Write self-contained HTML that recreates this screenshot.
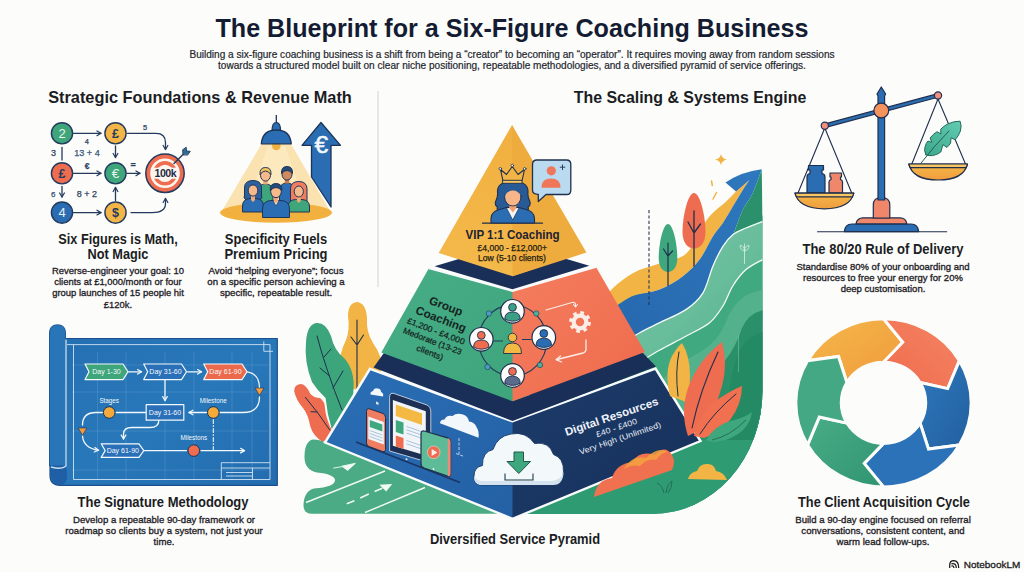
<!DOCTYPE html>
<html lang="en">
<head>
<meta charset="utf-8">
<title>The Blueprint for a Six-Figure Coaching Business</title>
<style>
html,body{margin:0;padding:0;}
body{width:1024px;height:572px;overflow:hidden;background:#fcfcfa;font-family:"Liberation Sans",sans-serif;color:#1c1f27;position:relative;}
#art{position:absolute;left:0;top:0;width:1024px;height:572px;}
.t{position:absolute;white-space:nowrap;text-align:center;transform:translateX(-50%) scaleX(var(--s,1));}
h1.t{margin:0;font-size:25.4px;font-weight:700;color:#141c33;line-height:30px;}
.sub{font-size:10.2px;line-height:11.3px;color:#23262e;-webkit-text-stroke:0.2px #23262e;}
.h2{font-size:16.6px;font-weight:700;line-height:20px;color:#1b1d24;}
.h3{font-size:14.2px;font-weight:700;line-height:15px;color:#1b1d24;}
.p{font-size:9.9px;line-height:11.2px;color:#1d2026;-webkit-text-stroke:0.32px #1d2026;}
svg text{font-family:"Liberation Sans",sans-serif;}
</style>
</head>
<body>
<svg id="art" viewBox="0 0 1024 572" width="1024" height="572">
<defs>
<marker id="ah" viewBox="0 0 10 10" refX="8" refY="5" markerWidth="5.2" markerHeight="5.2" orient="auto-start-reverse"><path d="M2 1.5 L8 5 L2 8.5" fill="none" stroke="#243a5e" stroke-width="1.8" stroke-linecap="round" stroke-linejoin="round"/></marker>
<marker id="aw" viewBox="0 0 10 10" refX="8" refY="5" markerWidth="5" markerHeight="5" orient="auto-start-reverse"><path d="M2 1.5 L8 5 L2 8.5" fill="none" stroke="#f3f8fc" stroke-width="1.9" stroke-linecap="round" stroke-linejoin="round"/></marker>
</defs>
<line x1="378" y1="91" x2="378" y2="287" stroke="#cfd3da" stroke-width="1"/>

<g id="flow" fill="none" stroke="#243a5e" stroke-width="1.3" stroke-linecap="round">
<path d="M73.5 133.3H101" marker-end="url(#ah)"/>
<path d="M73.5 173.3H101" marker-end="url(#ah)"/>
<path d="M73.5 212.6H101" marker-end="url(#ah)"/>
<path d="M127 173.3H140" marker-end="url(#ah)"/>
<path d="M115.5 146V157.5" marker-end="url(#ah)"/>
<path d="M115.5 200.5V187.5" marker-end="url(#ah)"/>
<path d="M62 147.5V160"/>
<path d="M62 186.5V197" marker-end="url(#ah)"/>
<path d="M127.5 133.3H156Q165.5 133.3 165.5 142.5V149.5" marker-end="url(#ah)"/>
<path d="M131 212.6H152Q165.5 212.6 165.5 203.5V198.5" marker-end="url(#ah)"/>
<g stroke-width="1.4">
<circle cx="62" cy="133.3" r="10.6" fill="#3fa57a"/>
<circle cx="115.5" cy="133.3" r="10.6" fill="#f2b546"/>
<circle cx="62" cy="173.3" r="10.6" fill="#ee6d50"/>
<circle cx="115.5" cy="173.3" r="10.6" fill="#3fa57a"/>
<circle cx="62" cy="212.6" r="10.6" fill="#2a6db2"/>
<circle cx="115.5" cy="212.6" r="10.6" fill="#f2b546"/>
</g>
<circle cx="165" cy="173.3" r="19.2" fill="#ee6d50" stroke-width="1.5"/>
<circle cx="165" cy="173.3" r="14.8" fill="#fdf6ee" stroke="none"/>
<circle cx="165" cy="173.3" r="12.2" fill="#ee6d50" stroke="none"/>
<circle cx="165" cy="173.3" r="8.6" fill="#fdf6ee" stroke="none"/>
<rect x="151.5" y="167.8" width="27.5" height="11" rx="3" fill="#fdf6ee" stroke="none"/>
<path d="M174 163.5L186 151.5" stroke-width="1.5"/>
<path d="M183 154.5L182.6 149.8L186.2 147.2L186.5 151L190.3 151.3L187.8 154.8Z" fill="#2f6f8f" stroke-width="0.9" stroke-linejoin="round"/>
</g>
<g font-weight="700" text-anchor="middle" font-size="12.5">
<text x="62" y="137.8" fill="#e9f6ee" font-weight="400" font-size="13">2</text>
<text x="115.5" y="137.9" fill="#243a5e">£</text>
<text x="62" y="177.9" fill="#243a5e">£</text>
<text x="115.5" y="177.9" fill="#e9f6ee" font-size="13.5" font-weight="400">€</text>
<text x="62" y="217.2" fill="#e9f0f8" font-weight="400" font-size="13">4</text>
<text x="115.5" y="217.3" fill="#243a5e">$</text>
<text x="165.3" y="176.9" fill="#1e2c48" font-size="10.6" letter-spacing="-0.5">100k</text>
</g>
<g fill="#2d4263" font-size="9" text-anchor="middle" stroke="#2d4263" stroke-width="0.25">
<text x="86.8" y="143.8" font-size="7.5">4</text>
<text x="145" y="129.6" font-size="7.5">5</text>
<text x="53.6" y="156.3">3</text>
<text x="87" y="156" fill="#3c6a98" font-size="9">13 + 4</text>
<text x="87" y="168.6" font-size="8.5" font-weight="700">€</text>
<text x="133.2" y="168" font-size="9" font-weight="700">=</text>
<text x="53.2" y="196.6" fill="#3c6a98" font-size="8">6</text>
<text x="87" y="197" font-size="9">8 + 2</text>
</g>

<g id="spot">
<path d="M261.500 144L291 144L331 212.500L221 212.500Z" fill="#fae3b0"/>
<path d="M268 146L285 146L308 212.500L245 212.500Z" fill="#fce9bd"/>
<ellipse cx="276" cy="212.6" rx="56" ry="10.2" fill="#f2b13e"/>
<!-- arrow -->
<path d="M321 122.5L340.5 145.3H331V207L311.500 177V145.300H302Z" fill="#2a6db2" stroke="#1f3558" stroke-width="1.3" stroke-linejoin="round"/>
<text x="321.300" y="152.800" font-size="24.500" fill="#f4f8fc" stroke="#f4f8fc" stroke-width="0.500" text-anchor="middle">€</text>
<!-- lamp -->
<path d="M276.3 115V123" stroke="#1f3558" stroke-width="1.3"/>
<circle cx="276.3" cy="146" r="4.3" fill="#f2b13e"/>
<path d="M272 131Q272 122.5 276.3 122.5Q280.6 122.5 280.6 131Z" fill="#2a6db2" stroke="#1f3558" stroke-width="1.2"/>
<path d="M261.3 143.8Q262.5 130 276.3 130Q290 130 291.3 143.8Z" fill="#2a6db2" stroke="#1f3558" stroke-width="1.3" stroke-linejoin="round"/>
<!-- back people -->
<g stroke="#1f3558" stroke-width="1" stroke-linejoin="round">
<path d="M258 206V192Q258 184 265.5 184Q273 184 273 192V206Z" fill="#3fa57a"/>
<path d="M279.5 206V191Q279.500 183 287 183Q294.500 183 294.500 191V206Z" fill="#2a6db2"/>
<path d="M263.3 178h4.400v6.500h-4.400z" fill="#f3a878" stroke="none"/>
<path d="M284.800 177h4.400v6.500h-4.400z" fill="#c97a52" stroke="none"/>
<ellipse cx="265.500" cy="175.300" rx="5" ry="5.800" fill="#f6b98a"/>
<path d="M260 174.500Q259.500 167.500 265.500 167.500Q271.500 167.500 271 174.500Q268.500 171 265.500 171Q262.500 171 260 174.500Z" fill="#f2c55a"/>
<ellipse cx="287" cy="174.300" rx="5" ry="5.800" fill="#d08a5e"/>
<path d="M281.500 173.500Q281 166.500 287 166.500Q293 166.500 292.500 173.500Q290 170.500 287 170.500Q284 170.500 281.500 173.500Z" fill="#24487a"/>
<!-- front left woman -->
<path d="M244.500 188Q244.500 180.500 253 180.500Q261.500 180.500 261.500 188V195Q263 198 260 200H246Q243 198 244.500 195Z" fill="#2b5f9e"/>
<path d="M242.500 212V206Q242.500 199 250 198.500H256Q263.500 199 263.500 206V212Z" fill="#2a6db2"/>
<path d="M251 194h4v6l-2 2l-2-2z" fill="#f3a878" stroke="none"/>
<ellipse cx="253" cy="190.500" rx="4.800" ry="5.600" fill="#f6b98a"/>
<!-- front right woman -->
<path d="M290.500 189Q290.500 181.500 298.800 181.500Q307 181.500 307 189V203H290.500Z" fill="#ee7d62"/>
<path d="M288 212V207Q288 200 295.500 199.500H302Q309.500 200 309.500 207V212Z" fill="#3fa57a"/>
<path d="M296.800 195h4v6l-2 2l-2-2z" fill="#f3a878" stroke="none"/>
<ellipse cx="298.800" cy="191.500" rx="4.600" ry="5.500" fill="#f6b98a"/>
<!-- center man -->
<path d="M262.500 217.500V209Q262.500 201 271 200.500H281Q289.500 201 289.500 209V217.500Z" fill="#2a6db2"/>
<path d="M273 200.500L276 206L279 200.500Z" fill="#f4f6f8" stroke-width="0.700"/>
<path d="M273.800 196h4.400v5l-2.200 2.500l-2.200-2.500z" fill="#f3a878" stroke="none"/>
<ellipse cx="276" cy="191.500" rx="5.300" ry="6.200" fill="#f6b98a"/>
<path d="M270.300 190.500Q269.500 183.500 276 183.500Q282.500 183.500 281.700 190.500Q279 187.500 276 187.500Q273 187.500 270.300 190.500Z" fill="#24487a"/>
</g>
</g>

<g id="bp">
<defs>
<linearGradient id="bpg" x1="0" y1="0" x2="1" y2="1"><stop offset="0" stop-color="#256fb2"/><stop offset="0.5" stop-color="#2878b9"/><stop offset="1" stop-color="#236caf"/></linearGradient>
<clipPath id="bpc"><rect x="66" y="339" width="211" height="146"/></clipPath>
</defs>
<!-- sheet -->
<path d="M66 338.500H277.300V485.300H60Q50 485.300 50 475V466H66Z" fill="url(#bpg)" stroke="#1b4f8c" stroke-width="1.200" stroke-linejoin="round"/>
<!-- roll -->
<path d="M49.500 333Q49.500 324.800 57.500 324.800Q65.500 324.800 65.500 333V466H49.500Z" fill="#2876b8" stroke="#1d5a98" stroke-width="1"/>
<path d="M50 466Q50 485 60 485Q70 485 66 466Z" fill="#1f5fa6"/>
<path d="M66 339.500V466Q62 470 51 467" fill="none" stroke="#c4ddf0" stroke-width="1.400"/>
<!-- grid -->
<g stroke="#6fa6d8" stroke-width="0.600" opacity="0.550" clip-path="url(#bpc)">
<path d="M97.500 352V480M126 352V480M165 352V480M194 352V480M232 352V480M252 352V480"/>
<path d="M72 365H268M72 392H268M72 431H268M72 470H268"/>
</g>
<!-- border -->
<path d="M67 344.600H270V479.500H73.500V344.600" fill="none" stroke="#cfe2f3" stroke-width="0.900"/>
<path d="M263.800 341.500V351.300H273" fill="none" stroke="#cfe2f3" stroke-width="0.900"/>
<path d="M221.300 479.500V462.700H270M221.300 468H270M226 472.500H252.500M226 476H252.500M252.500 468V479.500" fill="none" stroke="#cfe2f3" stroke-width="0.900"/>
<!-- flow lines -->
<g fill="none" stroke="#f3f8fc" stroke-width="1.300" stroke-linecap="round" stroke-linejoin="round">
<path d="M128.500 371.800H141.500" marker-end="url(#aw)"/>
<path d="M187.500 371.800H201.500" marker-end="url(#aw)"/>
<path d="M165 380.500V400.500" marker-end="url(#aw)"/>
<path d="M247.500 371.800Q259.500 374 259.500 388"/>
<path d="M259.500 397Q259.500 412.500 243 412.500H220"/>
<path d="M206.500 412.500H189" marker-end="url(#aw)"/>
<path d="M146 412.500H116"/>
<path d="M102.500 412.500H96Q82.500 412.500 82.500 425"/>
<path d="M82.500 436Q83.500 448 98.500 450.300" marker-end="url(#aw)"/>
<path d="M158.800 420.500Q158.800 427.500 150 427.500H132Q123.500 427.500 123.500 434V439" marker-end="url(#aw)"/>
<path d="M144.500 450.600H186.500M201 450.600H244.500" marker-end="url(#aw)"/>
<path d="M213.300 419.500V450" stroke-dasharray="4 2 1 2" stroke-width="1.100"/>
</g>
<!-- chevrons -->
<g stroke="#f3f8fc" stroke-width="1.200" stroke-linejoin="round">
<path d="M85 364H123L128 371.800L123 379.600H85L89 371.800Z" fill="#3fa57a"/>
<path d="M143.700 364H181.500L186.500 371.800L181.500 379.600H143.700L147.700 371.800Z" fill="#2a70b8"/>
<path d="M203.700 364H242L247 371.800L242 379.600H203.700L207.700 371.800Z" fill="#ec6a4c"/>
<rect x="146.200" y="404.600" width="37.600" height="15.600" fill="#2a70b8"/>
<path d="M101.200 443.800H139L143.800 450.600L139 457.400H101.200L105.200 450.600Z" fill="#2a70b8"/>
</g>
<g stroke="#1f3558" stroke-width="1">
<circle cx="109.200" cy="412.500" r="5.800" fill="#f4aa3a"/>
<circle cx="213.300" cy="412.500" r="5.800" fill="#f4aa3a"/>
<circle cx="193.800" cy="450.600" r="5.800" fill="#ee6d50"/>
</g>
<path d="M255 388H264L259.500 395.500Z" fill="#f29a3c" stroke="#1f3558" stroke-width="0.600"/>
<path d="M78.200 428H86.800L82.500 435.300Z" fill="#f29a3c" stroke="#1f3558" stroke-width="0.600"/>
<g fill="#f3f8fc" font-size="7" text-anchor="middle">
<text x="106.500" y="374.300">Day 1-30</text>
<text x="165.500" y="374.300">Day 31-60</text>
<text x="225.500" y="374.300">Day 61-90</text>
<text x="165" y="415">Day 31-60</text>
<text x="122.800" y="453.100">Day 61-90</text>
<text x="109.200" y="402.800" font-size="6.300">Stages</text>
<text x="213.300" y="402.800" font-size="6.300">Milestone</text>
<text x="193.800" y="440.300" font-size="6.300">Milestons</text>
</g>
</g>

<defs><linearGradient id="fthg" x1="1" y1="0" x2="0" y2="1"><stop offset="0" stop-color="#62cbb2"/><stop offset="1" stop-color="#3da88c"/></linearGradient><linearGradient id="pang" x1="0" y1="0" x2="0" y2="1"><stop offset="0" stop-color="#f5ba48"/><stop offset="1" stop-color="#f09c3e"/></linearGradient></defs>
<g id="scales" stroke="#1f2f4d" stroke-width="1.200" stroke-linejoin="round" stroke-linecap="round">
<!-- ground line -->
<path d="M817.500 231.800H946.700" stroke-width="1.100"/>
<!-- base -->
<path d="M844.300 231.600Q845 224 852 224H911Q918 224 918.700 231.600Z" fill="#2a6db2"/>
<path d="M882 224V231.600" stroke="none"/>
<path d="M856 223.800Q857 217.800 863 217.800H900Q906 217.800 906.800 223.800Z" fill="#f0876a"/>
<path d="M873.300 218V205Q873.300 197.500 881.500 197.500Q889.800 197.500 889.800 205V218Z" fill="#f0876a"/>
<!-- pole -->
<path d="M878 200V96L877 94L881.300 87L885.600 94L884.600 96V200Z" fill="#2a6db2"/>
<!-- beam -->
<path d="M825 123.900L938 93.700L938.800 97L825.800 127.300Z" fill="#2a6db2"/>
<!-- strings -->
<g fill="none" stroke-width="1.100">
<path d="M824.800 128L798 193M824.800 128L851.700 193"/>
<path d="M938 99L911.800 164M938 99L965.500 164"/>
</g>
<circle cx="881.300" cy="110.500" r="7.400" fill="#f4935c"/>
<circle cx="824.800" cy="125.800" r="3.600" fill="#f28f7c"/>
<circle cx="938" cy="95.500" r="3.600" fill="#f28f7c"/>
<!-- weights -->
<path d="M807 193V177Q807 174 810 173.500V170H808.500V165.500H823.500V170H822V173.500Q825 174 825 177V193Z" fill="#2a6db2"/>
<path d="M829 193V182Q829 180 831 179.500V177H830V173H841.500V177H840.500V179.500Q842.500 180 842.500 182V193Z" fill="#f0876a"/>
<!-- feather -->
<path d="M925.900 154.800Q923.500 150 925.200 146.400Q926 143 928 141L931.800 142.400L930.100 138Q933 134 937.100 131.700L941 134L940.600 129.300Q944 126 947.600 124Q954 121 960.100 121.200Q962 126 960.400 131Q958.500 136 955.200 139.700L951 137.800L950.600 143Q949 145.500 946.900 147.500L942.900 144.700L940.800 152Q937 155 932.400 155.600Q929 156 925.900 154.800Z" fill="url(#fthg)" stroke="#1f6b5c" stroke-width="1"/>
<path d="M921 163.100Q934 146 949 131" fill="none" stroke="#1f5f55" stroke-width="1"/>
<!-- pans -->
<path d="M795 193.200H853.800Q850 208.800 824.400 208.800Q798.800 208.800 795 193.200Z" fill="url(#pang)"/>
<path d="M795 193.200H853.800Q853.300 195.300 852.300 196.800H796.500Q795.500 195.300 795 193.200Z" fill="#f7c763"/>
<path d="M908.800 164H967.500Q963.700 180 938.200 180Q912.600 180 908.800 164Z" fill="url(#pang)"/>
<path d="M908.800 164H967.500Q967 166.100 966 167.600H910.300Q909.300 166.100 908.800 164Z" fill="#f7c763"/>
</g>

<g id="cycle" stroke="#fcfcfa" stroke-width="3" stroke-linejoin="miter">
<defs>
<linearGradient id="cy1" x1="0" y1="0" x2="1" y2="1"><stop offset="0" stop-color="#f5b84a"/><stop offset="1" stop-color="#ef9a3c"/></linearGradient>
<linearGradient id="cy2" x1="0" y1="1" x2="1" y2="0"><stop offset="0" stop-color="#ee6c4d"/><stop offset="1" stop-color="#f58464"/></linearGradient>
<linearGradient id="cy3" x1="0" y1="0" x2="1" y2="1"><stop offset="0" stop-color="#2e78bd"/><stop offset="1" stop-color="#225f9f"/></linearGradient>
<linearGradient id="cy4" x1="0" y1="0" x2="1" y2="1"><stop offset="0" stop-color="#49ad87"/><stop offset="1" stop-color="#2f9470"/></linearGradient>
</defs>
<path d="M807.6 360.7A87.6 84.1 0 0 1 883.5 318.7L902.8 342.2L883.5 362.2A42.2 40.6 0 0 0 846.9 382.5L838.5 356.5Z" fill="url(#cy1)"/>
<path d="M883.5 318.7A87.6 84.1 0 0 1 959.4 360.7L947.7 388.6L920.1 382.5A42.2 40.6 0 0 0 883.5 362.2L902.8 342.2Z" fill="url(#cy2)"/>
<path d="M959.4 360.7A87.6 84.1 0 0 1 959.4 444.9L928.5 449.1L920.1 423.1A42.2 40.6 0 0 0 920.1 382.5L947.7 388.6Z" fill="url(#cy3)"/>
<path d="M959.4 444.9A87.6 84.1 0 0 1 883.5 486.9L864.2 463.4L883.5 443.4A42.2 40.6 0 0 0 920.1 423.1L928.5 449.1Z" fill="#2b72b8"/>
<path d="M883.5 486.9A87.6 84.1 0 0 1 807.6 444.9L819.3 417.0L846.9 423.1A42.2 40.6 0 0 0 883.5 443.4L864.2 463.4Z" fill="url(#cy4)"/>
<path d="M807.6 444.9A87.6 84.1 0 0 1 807.6 360.7L838.5 356.5L846.9 382.5A42.2 40.6 0 0 0 846.9 423.1L819.3 417.0Z" fill="#43a883"/>
</g>

<g id="land">
<defs>
<clipPath id="rc"><path d="M480 150H762.500V390A110 124 0 0 1 652.500 514H480Z"/></clipPath>
<linearGradient id="lg1" x1="0" y1="0" x2="1" y2="1"><stop offset="0" stop-color="#80c9ab"/><stop offset="1" stop-color="#55b38e"/></linearGradient>
<linearGradient id="lg2" x1="0" y1="0" x2="0" y2="1"><stop offset="0" stop-color="#2f9872"/><stop offset="1" stop-color="#2b9a72"/></linearGradient>
<linearGradient id="blg" x1="0" y1="1" x2="1" y2="0"><stop offset="0" stop-color="#2767ad"/><stop offset="1" stop-color="#2e78bd"/></linearGradient>
</defs>
<!-- right landscape -->
<g clip-path="url(#rc)">
<path d="M600 300L700 285L763 215V520H500V420Z" fill="#3da57b"/>
<path d="M600.0 305.0C602.2 302.1 607.8 293.2 613.3 287.8C618.8 282.4 626.0 276.8 633.2 272.9C640.4 269.0 648.1 267.4 656.4 264.6C664.7 261.8 676.6 259.9 683.0 256.0C689.4 252.1 691.2 246.8 695.0 241.0C698.8 235.2 702.5 226.2 706.0 221.0C709.5 215.8 712.6 213.2 716.0 210.0C719.4 206.8 722.9 204.6 726.2 201.5C729.5 198.4 734.4 193.2 736.0 191.5L741.0 187.0L749.4 180.0C748.3 181.7 745.6 185.5 742.8 189.9C740.0 194.3 736.1 201.0 732.8 206.5C729.5 212.0 726.2 218.0 722.9 223.0C719.6 228.0 716.8 230.3 712.9 236.4C709.0 242.5 704.6 253.0 699.6 259.6C694.6 266.2 689.6 271.2 683.0 276.2C676.4 281.2 668.1 286.2 659.8 289.5C651.5 292.8 640.4 293.2 633.2 296.0C626.0 298.8 622.1 302.3 616.6 306.0C611.1 309.7 602.8 316.0 600.0 318.0Z" fill="#f2b444"/>
<path d="M600.0 318.0C602.8 316.0 611.1 309.7 616.6 306.0C622.1 302.3 626.0 298.8 633.2 296.0C640.4 293.2 651.5 292.8 659.8 289.5C668.1 286.2 676.4 281.2 683.0 276.2C689.6 271.2 694.6 266.2 699.6 259.6C704.6 253.0 709.0 242.5 712.9 236.4C716.8 230.3 719.6 228.0 722.9 223.0C726.2 218.0 729.5 212.0 732.8 206.5C736.1 201.0 740.0 194.3 742.8 189.9C745.6 185.5 748.3 181.7 749.4 180.0L736.0 191.5L725.5 182.6Q742 171.5 761.7 169.3C760.2 173.3 755.9 186.4 752.7 193.2C749.6 199.9 745.8 203.4 742.8 209.8C739.8 216.2 736.2 227.2 734.5 231.4C732.8 235.6 733.1 234.1 732.8 234.7C731.1 236.6 726.2 241.1 722.9 246.3C719.6 251.6 716.2 258.4 712.9 266.2C709.6 273.9 707.4 285.6 703.0 292.8C698.6 300.0 693.5 304.4 686.3 309.4C679.1 314.4 667.5 318.8 659.8 322.7C652.0 326.6 646.4 329.0 639.8 332.7C633.2 336.4 623.3 342.9 620.0 345.0Z" fill="url(#blg)"/>
<path d="M761.7 169.3C760.2 173.3 755.9 186.4 752.7 193.2C749.6 199.9 745.8 203.4 742.8 209.8C739.8 216.2 736.2 227.2 734.5 231.4C732.8 235.6 733.1 234.1 732.8 234.7C735.0 233.6 741.0 230.2 746.0 228.0C751.0 225.8 759.9 222.5 762.7 221.4Z" fill="#2b916c"/>
<path d="M620.0 345.0C623.3 342.9 633.2 336.4 639.8 332.7C646.4 329.0 652.0 326.6 659.8 322.7C667.5 318.8 679.1 314.4 686.3 309.4C693.5 304.4 698.6 300.0 703.0 292.8C707.4 285.6 709.6 273.9 712.9 266.2C716.2 258.4 719.6 251.6 722.9 246.3C726.2 241.1 728.9 237.8 732.8 234.7C736.6 231.6 741.0 230.2 746.0 228.0C751.0 225.8 759.9 222.5 762.7 221.4L762.7 259.6C759.9 261.3 751.0 265.2 746.0 269.6C741.0 274.0 736.6 279.9 732.8 286.0C728.9 292.1 726.8 299.9 722.9 306.0C719.0 312.1 715.7 317.7 709.6 322.7C703.5 327.7 694.6 331.4 686.3 336.0C678.0 340.6 667.5 345.7 659.8 350.0C652.1 354.3 643.3 360.0 640.0 362.0Z" fill="url(#lg1)"/>
<path d="M620.0 345.0C623.3 342.9 633.2 336.4 639.8 332.7C646.4 329.0 652.0 326.6 659.8 322.7C667.5 318.8 679.1 314.4 686.3 309.4C693.5 304.4 698.6 300.0 703.0 292.8C707.4 285.6 709.6 273.9 712.9 266.2C716.2 258.4 719.6 251.6 722.9 246.3C726.2 241.1 728.9 237.8 732.8 234.7C736.6 231.6 741.0 230.2 746.0 228.0C751.0 225.8 759.9 222.5 762.7 221.4" fill="none" stroke="#f4fbf7" stroke-width="1.300"/>
<path d="M640.0 362.0C643.3 360.0 652.1 354.3 659.8 350.0C667.5 345.7 678.0 340.6 686.3 336.0C694.6 331.4 703.5 327.7 709.6 322.7C715.7 317.7 719.0 312.1 722.9 306.0C726.8 299.9 728.9 292.1 732.8 286.0C736.6 279.9 741.0 274.0 746.0 269.6C751.0 265.2 759.9 261.3 762.7 259.6L762.7 520L560 520Z" fill="#41a97f"/>
<path d="M640.0 362.0C643.3 360.0 652.1 354.3 659.8 350.0C667.5 345.7 678.0 340.6 686.3 336.0C694.6 331.4 703.5 327.7 709.6 322.7C715.7 317.7 719.0 312.1 722.9 306.0C726.8 299.9 728.9 292.1 732.8 286.0C736.6 279.9 741.0 274.0 746.0 269.6C751.0 265.2 759.9 261.3 762.7 259.6" fill="none" stroke="#f4fbf7" stroke-width="1.300"/>
<path d="M652 392Q670 368 700 352Q718 342 726 322Q732 305 745 296Q755 291 763 290V322Q752 324 746 332Q738 352 722 368Q700 382 690 402Q684 422 680 442L655 442Z" fill="#5ab48f" opacity="0.750"/>
<path d="M700 430Q704 385 724 362Q736 347 742 328Q748 314 763 310V520H690Z" fill="#2a906a"/>
<path d="M727 440Q726 380 740 350Q748 335 763 332V440Z" fill="#238862" opacity="0.800"/>
<path d="M744.500 264V243.500M744.500 251Q740 250 740 245.500Q744 245.500 744.500 251M744.500 251Q749 250 749 245.500Q745 245.500 744.500 251" fill="none" stroke="#d8f0e4" stroke-width="0.800"/>
<path d="M738.500 335V372" stroke="#7fcaac" stroke-width="1" opacity="0.500"/>
</g>
<!-- trees -->
<path d="M668 224C673 224 677.300 244 677.300 258C677.300 267 673 272 668 272C663 272 658.700 267 658.700 258C658.700 244 663 224 668 224Z" fill="#3fa77d"/>
<path d="M668 285.500V243M668 256L663.500 249M668 256L672.500 251" fill="none" stroke="#1f2f4d" stroke-width="1.200" stroke-linecap="round"/>
<path d="M694 193C700 193 705.500 216 705.500 232C705.500 243 700 248.500 694 248.500C688 248.500 682.500 243 682.500 232C682.500 216 688 193 694 193Z" fill="#ee6d50"/>
<path d="M694 266V211M694 233L688 222M694 233L700.500 224" fill="none" stroke="#1f2f4d" stroke-width="1.300" stroke-linecap="round"/>
<!-- dashed line, sparkle -->
<path d="M649 210V306" stroke="#2a3550" stroke-width="1.100" stroke-dasharray="3.200 2.200" fill="none"/>
<path d="M721 154Q721.800 158.800 727 159.600Q721.800 160.400 721 165.500Q720.200 160.400 715 159.600Q720.200 158.800 721 154Z" fill="#f2b444"/>
<path d="M711.500 181L712.300 185.500M716.500 192.500L713 199" stroke="#f2b444" stroke-width="1.500" stroke-linecap="round"/>
<!-- left leaves -->
<path d="M357 302Q366 303 367 318Q366 332 373 343Q384 358 381 372Q376 388 357 390Q338 386 339 366Q340 352 346 340Q350 330 348 316Q348 303 357 302Z" fill="#f2b444"/>
<path d="M357 320V388M357 345L351 337M357 345L363.500 335" fill="none" stroke="#1f2f4d" stroke-width="1.100" stroke-linecap="round"/>
<path d="M316 323Q326 322 331 336Q334 350 344 358Q355 370 353.500 390Q353 405 351 420L332 430Q327 414 325.600 398Q317 390 312 382Q304 362 306 342Q307 325 316 323Z" fill="#3da57b"/>
<path d="M317 336Q326 370 342 410M329.500 376L320 368M333 388L343 371M324 357L331 349" fill="none" stroke="#1f2f4d" stroke-width="1" stroke-linecap="round"/>
<path d="M300.400 384Q306 384 310.200 393.800Q314 398 320 398Q325 402 325 408Q325.600 416 329.800 426L334 434L322.800 442Q313 436 310.200 426Q308 414 303 408Q296 400 294.100 391Q294.500 384.500 300.400 384Z" fill="#ee6d50"/>
<path d="M305.300 397.300Q318 412 329.800 430M317.200 412L311 411.700" fill="none" stroke="#1f2f4d" stroke-width="1" stroke-linecap="round"/>
<!-- left ground -->
<path d="M325 442.500L512 500V513.800H312Q303.500 513.800 303.500 505Q304 491 314 488.500Q335 487 335 480Q334 474 317 472.500Q304.500 470 304.500 457Q304.500 441 313 439.500Q320 439.500 325 442.500Z" fill="#4aab84"/>
<path d="M306 502.500L385 471M365 512.500L425 487.500" stroke="#f1faf5" stroke-width="1.400" fill="none"/>
<path d="M346.700 503.700L354.400 500.800M360.200 497.900L368.800 494M374.600 491.500L382.300 488.300" stroke="#f1faf5" stroke-width="1.600" fill="none"/>
<path d="M379.400 484.800L392.200 484L386.200 491.400Z" fill="#f1faf5"/>
<path d="M341.900 466.200L355.400 463.300L347.700 470.400ZM333.300 468.100L342 466.700" fill="#f1faf5" stroke="#f1faf5" stroke-width="0.900"/>
<!-- bottom right ground strip -->
<path clip-path="url(#rc)" d="M512 500L701 440L762 440V390A110 124 0 0 1 652.500 514H512Z" fill="#2f9b73"/>
</g>

<g id="pyr">
<defs>
<linearGradient id="py1" x1="0" y1="0" x2="0" y2="1"><stop offset="0" stop-color="#f1b040"/><stop offset="1" stop-color="#f4b94b"/></linearGradient>
<linearGradient id="py2" x1="0" y1="0" x2="1" y2="1"><stop offset="0" stop-color="#46ad86"/><stop offset="1" stop-color="#3ea47c"/></linearGradient>
<linearGradient id="py3" x1="0" y1="0" x2="1" y2="1"><stop offset="0" stop-color="#f47d5e"/><stop offset="1" stop-color="#ee6a4c"/></linearGradient>
<linearGradient id="py4" x1="0" y1="0" x2="1" y2="1"><stop offset="0" stop-color="#2b6fb6"/><stop offset="1" stop-color="#235fa3"/></linearGradient>
<linearGradient id="py5" x1="0" y1="0" x2="1" y2="1"><stop offset="0" stop-color="#1d3c6c"/><stop offset="1" stop-color="#162f58"/></linearGradient>
</defs>
<!-- bottom tier -->
<path d="M370 368.800L512.500 421.300L530 415V511L512.500 518.800L325 442.500Z" fill="url(#py4)"/>
<path d="M512.500 421.300L655.500 368.500L700.500 441L512.500 518.800Z" fill="url(#py5)"/>
<path d="M370 368.800L512.500 421.300L655.500 368.500L700.500 441L512.500 518.800L325 442.500Z" fill="none" stroke="#f8fbfc" stroke-width="2.400" stroke-linejoin="miter"/>
<!-- navy band 2 -->
<path d="M373.500 367.600L386 350L512.500 396L640 350L656 366.600L512.500 421Z" fill="#1a2f58"/>
<!-- middle tier -->
<path d="M429 268L512.500 291L530 286V395L512.500 401.300L381.300 352.500Z" fill="url(#py2)"/>
<path d="M512.500 291L596 267L645 352L512.500 401.300Z" fill="url(#py3)"/>
<path d="M428.300 268.200L512.500 291L596.500 267" fill="none" stroke="#f6fafc" stroke-width="1.800" stroke-linejoin="miter"/>
<!-- navy band 1 -->
<path d="M434.600 266.200L512.500 243L589.400 265.800L512.500 289.300Z" fill="#1a2f58"/>
<!-- top tier -->
<path d="M512 125L438.700 253L512.500 276.200L540 267L520 140Z" fill="url(#py1)"/>
<path d="M512 125L512.500 276.200L586.400 252.600Z" fill="#efac3e"/>
</g>

<g id="icons">
<!-- queen -->
<g stroke="#1f2f4d" stroke-width="1.100" stroke-linejoin="round" stroke-linecap="round">
<path d="M482.500 223.200H542.500" fill="none" stroke-width="1.200"/>
<path d="M497.500 192Q497 181.500 512.800 181.500Q528.500 181.500 528 192Q527.500 197 529.500 200.500Q531.500 205 528 207Q529.500 210.500 525 212H500.500Q496 210.500 497.500 207Q494 205 496 200.500Q498 197 497.500 192Z" fill="#285a96"/>
<path d="M491 223V218.500Q491 211.500 499.500 209.500L506.500 207.500H519L526 209.500Q534.500 211.500 534.500 218.500V223Z" fill="#2a6db2"/>
<path d="M506.500 208L512.700 220L519 208Z" fill="#f3f6f8" stroke-width="0.700"/>
<path d="M509.300 203h7v5l-3.500 4.500l-3.500-4.500z" fill="#f0a070" stroke="none"/>
<ellipse cx="512.800" cy="196.800" rx="8.200" ry="9.200" fill="#f6b68a" stroke-width="0.900"/>
<path d="M504.600 196Q503.500 186 512.800 186Q522 186 521 196Q518 190 512 190.500Q507 191 504.600 196Z" fill="#285a96" stroke="none"/>
<path d="M503 180.800L500.500 169.500L506.500 174.500L512.300 166.500L518 174.500L524.500 169.500L522 180.800Z" fill="#f2b444"/>
<rect x="503" y="180.300" width="19" height="3" fill="#f7c861" stroke-width="0.900"/>
<circle cx="500.300" cy="168.800" r="1.300" fill="#fcfcfa" stroke-width="0.800"/>
<circle cx="512.300" cy="165.500" r="1.300" fill="#fcfcfa" stroke-width="0.800"/>
<circle cx="524.700" cy="168.800" r="1.300" fill="#fcfcfa" stroke-width="0.800"/>
<!-- bubble -->
<path d="M537 160H566.500Q570.800 160 570.800 164.300V190.200Q570.800 194.500 566.500 194.500H546L538.300 201.500V194.300Q532.500 194 532.500 190.200V164.300Q532.500 160 537 160Z" fill="#b9daef" stroke-width="1.300"/>
</g>
<circle cx="551.300" cy="170.800" r="4.600" fill="#f0765a"/>
<path d="M541.500 187.800Q541.500 178.500 551 178.500Q560.500 178.500 560.500 187.800Z" fill="#f0765a"/>
<path d="M562.500 164.500V170M559.800 167.200H565.200" stroke="#1f2f4d" stroke-width="0.900" fill="none"/>

<!-- network -->
<g>
<ellipse cx="512.700" cy="340.500" rx="34" ry="35.500" fill="none" stroke="#1f3a5a" stroke-width="1.100"/>
<path d="M493.500 341H503M522 339.500H531.500" stroke="#1f3a5a" stroke-width="1.100" fill="none"/>
<g fill="#4fae9a" stroke="#1f3a5a" stroke-width="0.600"><circle cx="488.800" cy="313.500" r="2.700" fill="#4a9cc0"/><circle cx="536.300" cy="313.500" r="2.700"/><circle cx="487.500" cy="367" r="2.700" fill="#4a9cc0"/><circle cx="540" cy="365" r="2.700"/></g>
<g stroke="#1f2f4d" stroke-width="1.200" fill="#fbfcfb">
<circle cx="512.500" cy="311.300" r="11.800"/>
<circle cx="481.300" cy="339.300" r="11.800"/>
<circle cx="543.800" cy="337.500" r="11.800"/>
<circle cx="512.500" cy="375.500" r="11.800"/>
</g>
<g stroke="#1f2f4d" stroke-width="0.900">
<circle cx="512.500" cy="307.300" r="3.900" fill="#3a9f84"/><path d="M504.800 319Q504.800 312 512.500 312Q520.200 312 520.200 319Q512.500 323.500 504.800 319Z" fill="#3a9f84"/>
<circle cx="481.300" cy="335.300" r="3.900" fill="#ee6d50"/><path d="M473.600 347Q473.600 340 481.300 340Q489 340 489 347Q481.300 351.500 473.600 347Z" fill="#ee6d50"/>
<circle cx="543.800" cy="333.500" r="3.900" fill="#2a6db2"/><path d="M536.100 345.200Q536.100 338.200 543.800 338.200Q551.500 338.200 551.500 345.200Q543.800 349.700 536.100 345.200Z" fill="#2a6db2"/>
<circle cx="512.500" cy="371.500" r="3.900" fill="#ee6d50"/><path d="M504.800 383.200Q504.800 376.200 512.500 376.200Q520.200 376.200 520.200 383.200Q512.500 387.700 504.800 383.200Z" fill="#5b6b8c"/>
<circle cx="512.500" cy="337.500" r="4.300" fill="#f4b942"/><path d="M503.500 353.500Q503.500 343 512.500 343Q521.500 343 521.500 353.500Z" fill="#f4b942"/>
</g>
</g>
<!-- gear & arrows -->
<g fill="none" stroke="#fbeee8" stroke-linecap="round" stroke-linejoin="round">
<circle cx="580" cy="322" r="6.300" stroke-width="4.200"/>
<circle cx="580" cy="322" r="9.300" stroke-width="3.200" stroke-dasharray="3.650 3.650" stroke-linecap="butt"/>
<path d="M546 310L572 302.500Q575.500 301.800 575.500 305V306.500" stroke-width="1.100"/>
<path d="M573.500 304.500L575.500 307L577.500 304.500" stroke-width="1.100"/>
<path d="M586 340V349.500Q586 352 583 353L557 359.500" stroke-width="1.300"/>
<path d="M560.500 356L556 359.700L561.500 362" stroke-width="1.300"/>
</g>

<!-- devices -->
<g stroke-linejoin="round">
<path d="M356 442L460 482.500" stroke="#1b3566" stroke-width="1.600" fill="none"/>
<!-- small clouds -->
<path d="M370.500 394.500Q370 391.500 373 391Q374 387.500 377.500 388.500Q381 388.500 381 392Q384 393 383 396.500Z" fill="#f1f7fb"/>
<path d="M376 401.500l2.500 1v2.500l-2.500-1z" fill="#dbe9f5"/>
<path d="M440 423.300Q440 419.500 444.500 419.500Q446.500 414.500 452.500 416Q456.500 412.500 463 414.500Q468 416 469 421.500Q474.500 422 476.500 427Q479.500 432 478.500 437.700Z" fill="#f1f7fb"/>
<path d="M456 453.500l7 2.600M459 438v16.500" stroke="#dbe9f5" stroke-width="0.800" fill="none" stroke-dasharray="3 1.500"/>
<!-- phone -->
<path d="M366.500 411.500Q366.500 408 370 409L383 413.500Q385.500 414.500 385.500 417.500V449.500Q385.500 452.500 382.500 451.500L369 446.500Q366.500 445.500 366.500 443Z" fill="#ee7d62" stroke="#1f2f4d" stroke-width="1"/>
<path d="M368.300 416.500L383.800 422V444.500L368.300 439Z" fill="#f1f5f8"/>
<path d="M369.800 420L382.300 424.500V431.500L369.800 427Z" fill="#3fa77d"/>
<path d="M369.800 430.500L382.300 435M369.800 433.500L382.300 438M369.800 436.500L382.300 441" stroke="#a8c4de" stroke-width="1" fill="none"/>
<!-- tablet back -->
<path d="M389.600 397.500Q389.600 392 394 393.500L427 405Q430.800 406.500 430.800 411V463L389.600 451Z" fill="#1d2f55" stroke="#dfeaf4" stroke-width="0.800"/>
<path d="M392.900 400L425.800 411.200V455.500L392.900 445.800Z" fill="#f1f5f8"/>
<path d="M395.800 404.500L422 413.500V425L395.800 416Z" fill="#f4b942"/>
<path d="M395.800 420L403.500 422.600V434.600L395.800 432Z" fill="#3fa77d"/>
<path d="M395.800 435.500L403.500 438.100V449L395.800 446.400Z" fill="#ee6d50"/>
<path d="M406.500 426.500L422 431.800M406.500 429.800L422 435.100M406.500 433.100L422 438.400M406.500 440.500L422 445.800M406.500 443.800L422 449.100" stroke="#a8c4de" stroke-width="1" fill="none"/>
<circle cx="406.500" cy="459.300" r="1" fill="#dfeaf4"/>
<!-- small tablet -->
<path d="M421 434Q421 430 425 431.200L447.500 437.800Q450.600 439 450.600 442.500V473Q450.600 477 447.500 476L424 468Q421 467 421 464Z" fill="#5dbb98" stroke="#1f2f4d" stroke-width="1.200"/>
<path d="M447.800 438Q450.600 439 450.600 442.500V473Q450.600 477 447.800 476.100Z" fill="#f08a72"/>
<circle cx="433.700" cy="452.300" r="6.300" fill="#ee6d50" stroke="#f6d9cf" stroke-width="0.600"/>
<path d="M431.700 449L437.300 452.500L431.700 456Z" fill="#fdf3ee"/>
<circle cx="433.500" cy="469" r="0.900" fill="#f1f5f8"/>
</g>
<!-- big cloud -->
<path d="M480 485Q473.500 484 474 476Q474 467 482.500 465.500Q482 452 493 449.500Q497.500 436 511 434Q526 431 534.500 443.500Q549 441 553.500 454.500Q564 458 563.500 472Q563 485 553 485Z" fill="#f3f8fb" stroke="#1f3a66" stroke-width="0.900"/>
<path d="M480 485Q473.500 484 474 476Q476 481 484 481H552Q561 480 563.500 472Q563 485 553 485Z" fill="#d4e3ef"/>
<path d="M514 452H523.500V461.500H530.500L518.800 473.500L507 461.500H514Z" fill="#3fa77d" stroke="#1f5a4a" stroke-width="1" stroke-linejoin="round"/>
<path d="M505 473.500V480H533V473.500" fill="none" stroke="#1f3a4a" stroke-width="1.100"/>
<!-- bushes bottom-right -->
<path d="M594 497Q596 480 612 478Q616 464 632 462Q640 450 655 455Q665 444 672 455Q676 462 672 470Z" fill="#f0714f"/>
<path d="M623 470Q632 454 646 458Q658 446 668 452Q662 452 656 460Q648 458 640 466Q630 464 623 470Z" fill="#f4a23f" opacity="0.850"/>
<path d="M688 479Q690 472 697 471Q700 463 708 464Q714 464 716 471Q724 472 727 480Z" fill="#f2b444"/>
<path d="M664 493Q662 485 657 483M666 493Q667 484 672 481Q672 488 668 493" fill="none" stroke="#1f6a52" stroke-width="0.900"/>
<!-- right leaves -->
<path d="M670 396Q664 372 672 356Q678 346 682 343Q690 356 690 376Q690 392 686 402Z" fill="#f2b444"/>
<path d="M679 352Q675 372 678 396" fill="none" stroke="#1f2f4d" stroke-width="1" stroke-linecap="round"/>
<path d="M688 436Q680 412 688 388Q698 360 722 342Q728 364 722 386Q716 410 700 430Z" fill="#ee6d50"/>
<path d="M718 352Q700 390 692 428" fill="none" stroke="#1f2f4d" stroke-width="1.100" stroke-linecap="round"/>
<path d="M694 436Q700 410 720 398Q732 390 742 386Q742 404 730 420Q720 432 704 438Z" fill="#f07050"/>
<path d="M736 394Q714 412 700 434" fill="none" stroke="#1f2f4d" stroke-width="1" stroke-linecap="round"/>
<path d="M706 440Q716 424 734 420Q744 418 752 412Q750 426 738 434Q726 442 712 442Z" fill="#3fa77d"/>
<path d="M712 440Q730 436 746 420" fill="none" stroke="#1f6a52" stroke-width="0.900"/>
</g>

<g id="labels" text-anchor="middle">
<text id="l1" x="512.500" y="238.800" font-size="12.200" font-weight="700" fill="#1d2233" textLength="94" lengthAdjust="spacingAndGlyphs">VIP 1:1 Coaching</text>
<text id="l2" x="512.300" y="250.600" font-size="8.700" fill="#221c12" stroke="#221c12" stroke-width="0.250" textLength="69.500" lengthAdjust="spacingAndGlyphs">£4,000 - £12,000+</text>
<text id="l3" x="512" y="261" font-size="8.700" fill="#221c12" stroke="#221c12" stroke-width="0.250" textLength="68" lengthAdjust="spacingAndGlyphs">Low (5-10 clients)</text>
<g transform="translate(446 306) rotate(21)" fill="#16241f">
<text x="0" y="4" font-size="11.500" font-weight="700" textLength="35" lengthAdjust="spacingAndGlyphs">Group</text>
</g>
<g transform="translate(441 319) rotate(21)" fill="#16241f">
<text x="0" y="4" font-size="11.500" font-weight="700" textLength="53" lengthAdjust="spacingAndGlyphs">Coaching</text>
</g>
<g transform="translate(436 331) rotate(21)" fill="#14211c" stroke="#14211c" stroke-width="0.200">
<text x="0" y="3" font-size="8.300" textLength="61" lengthAdjust="spacingAndGlyphs">£1,200 - £4,000</text>
</g>
<g transform="translate(432.500 341) rotate(21)" fill="#14211c" stroke="#14211c" stroke-width="0.200">
<text x="0" y="3" font-size="8.300" textLength="62" lengthAdjust="spacingAndGlyphs">Medorate (13-23</text>
</g>
<g transform="translate(430 352.500) rotate(21)" fill="#14211c" stroke="#14211c" stroke-width="0.200">
<text x="0" y="3" font-size="8.300" textLength="28" lengthAdjust="spacingAndGlyphs">clients)</text>
</g>
<g transform="translate(611.500 416.500) rotate(-18.800)" fill="#f0f4fa">
<text x="0" y="4" font-size="11.300" font-weight="700" textLength="98" lengthAdjust="spacingAndGlyphs">Digital Resources</text>
</g>
<g transform="translate(616.500 427.500) rotate(-18.800)" fill="#e6ecf5">
<text x="0" y="3" font-size="8" textLength="43" lengthAdjust="spacingAndGlyphs">£40 - £400</text>
</g>
<g transform="translate(620 438) rotate(-18.800)" fill="#e6ecf5">
<text x="0" y="3" font-size="8" textLength="86" lengthAdjust="spacingAndGlyphs">Very High (Unlimited)</text>
</g>
</g>
<!-- NotebookLM icon -->
<g fill="none" stroke="#1c1c1c" stroke-width="1.250" stroke-linecap="butt">
<path d="M949.700 567.900V565.200Q949.700 560.700 953.800 560.700Q958.700 560.900 958.700 567.900"/>
<path d="M951.400 563.800Q956.300 562.600 956.300 567.900"/>
<path d="M951.400 566.100Q953.900 565.300 953.900 567.900"/>
</g>


</svg>

<h1 class="t" id="title" style="--s:0.989;left:511.5px;top:13.4px;">The Blueprint for a Six-Figure Coaching Business</h1>
<div class="t sub" id="sub" style="--s:0.988;left:512.2px;top:48.6px;">Building a six-figure coaching business is a shift from being a “creator” to becoming an “operator”. It requires moving away from random sessions<br>towards a structured model built on clear niche positioning, repeatable methodologies, and a diversified pyramid of service offerings.</div>

<div class="t h2" id="h2a" style="--s:0.983;left:200.2px;top:87.7px;">Strategic Foundations &amp; Revenue Math</div>
<div class="t h2" id="h2b" style="--s:0.959;left:689.5px;top:87.7px;">The Scaling &amp; Systems Engine</div>

<div class="t h3" id="h3a" style="--s:0.896;left:118px;top:232px;">Six Figures is Math,<br>Not Magic</div>
<div class="t p" id="pa" style="--s:0.955;left:118px;top:265px;">Reverse-engineer your goal: 10<br>clients at £1,000/month or four<br>group launches of 15 people hit<br>£120k.</div>

<div class="t h3" id="h3b" style="--s:0.914;left:275.5px;top:232px;">Specificity Fuels<br>Premium Pricing</div>
<div class="t p" id="pb" style="--s:0.978;left:276px;top:265px;">Avoid “helping everyone”; focus<br>on a specific person achieving a<br>specific, repeatable result.</div>

<div class="t h3" id="h3c" style="--s:0.915;left:163px;top:494.6px;">The Signature Methodology</div>
<div class="t p" id="pc" style="--s:0.972;left:163.5px;top:514px;">Develop a repeatable 90-day framework or<br>roadmap so clients buy a system, not just your<br>time.</div>

<div class="t h3" id="h3d" style="--s:0.916;left:883px;top:242.1px;">The 80/20 Rule of Delivery</div>
<div class="t p" id="pd" style="--s:0.964;left:883px;top:260.5px;">Standardise 80% of your onboarding and<br>resources to free your energy for 20%<br>deep customisation.</div>

<div class="t h3" id="h3e" style="--s:0.9;left:883.5px;top:494.6px;">The Client Acquisition Cycle</div>
<div class="t p" id="pe" style="--s:0.972;left:883px;top:514px;">Build a 90-day engine focused on referral<br>conversations, consistent content, and<br>warm lead follow-ups.</div>

<div class="t h3" id="h3f" style="--s:0.91;left:514.5px;top:532.1px;">Diversified Service Pyramid</div>

<div class="t" id="nlm" style="left:991.5px;top:558.7px;font-size:9.8px;line-height:12px;color:#1c1c1c;transform:translateX(-50%) scaleX(1.02);-webkit-text-stroke:0.3px #1c1c1c;">NotebookLM</div>
</body>
</html>
